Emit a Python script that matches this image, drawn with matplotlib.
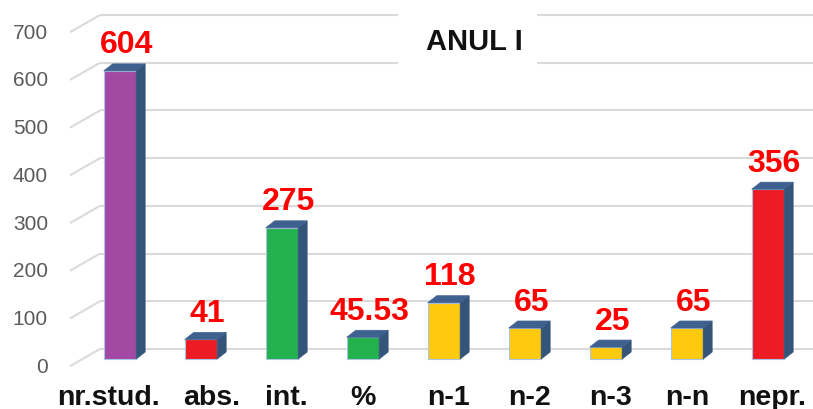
import matplotlib
matplotlib.use("Agg")
import matplotlib.pyplot as plt
from matplotlib.patches import Polygon, Rectangle

categories = ['nr.stud.', 'abs.', 'int.', '%', 'n-1', 'n-2', 'n-3', 'n-n', 'nepr.']
values = [604, 41, 275, 45.53, 118, 65, 25, 65, 356]
value_labels = ['604', '41', '275', '45.53', '118', '65', '25', '65', '356']
bar_colors = ['#A349A4', '#ED1C24', '#22B14C', '#22B14C', '#FFC90E',
              '#FFC90E', '#FFC90E', '#FFC90E', '#ED1C24']
y_ticks = [0, 100, 200, 300, 400, 500, 600, 700]

plt.rcParams['font.family'] = ['Liberation Sans', 'DejaVu Sans']

fig = plt.figure(figsize=(8.13, 4.10), dpi=100)
ax = fig.add_axes([0, 0, 1, 1])
ax.set_xlim(-1.481, 8.556)
ax.set_ylim(-104.8, 754.7)
ax.axis('off')

# depth of the bars and of the floor/wall (oblique 3D look)
w = 0.4
dx, dy = 0.111, 14.7
wall_x0, wall_x1 = -0.617, -0.247
wall_dy_front, wall_dy_back = -15, 21

# gridlines: short diagonal on the side wall + long line on back wall
for v in y_ticks:
    ax.plot([wall_x0, wall_x1], [v + wall_dy_front, v + wall_dy_back],
            color='#dadada', lw=1.5, zorder=0, solid_capstyle='butt')
    ax.plot([wall_x1, 8.6], [v + wall_dy_back, v + wall_dy_back],
            color='#dadada', lw=1.5, zorder=0, solid_capstyle='butt')
    ax.text(-0.889, v + wall_dy_front, str(v), ha='right', va='center',
            fontsize=15, color='#5a5a5a')

# white box behind the title hides gridlines
ax.add_patch(Rectangle((3.43, 612), 1.72, 122, facecolor='white',
                       edgecolor='none', zorder=1))
ax.text(4.38, 650, 'ANUL I', ha='center', va='baseline', fontsize=21,
        fontweight='bold', color='#111111', zorder=2)

x = list(range(len(categories)))
ax.bar(x, values, width=w, color=bar_colors, edgecolor='#a9c3e3',
       linewidth=0.8, zorder=3)
for xi, v, lab in zip(x, values, value_labels):
    right = xi + w / 2
    left = xi - w / 2
    side = Polygon([(right, 0), (right + dx, dy), (right + dx, v + dy), (right, v)],
                   closed=True, facecolor='#35547a', edgecolor='#35547a',
                   lw=0.5, zorder=3)
    top = Polygon([(left, v), (left + dx, v + dy), (right + dx, v + dy), (right, v)],
                  closed=True, facecolor='#3f6190', edgecolor='#3f6190',
                  lw=0.5, zorder=3)
    ax.add_patch(side)
    ax.add_patch(top)
    ax.text(xi + dx * 0.7, v + dy + 24, lab, ha='center', va='baseline',
            fontsize=23, fontweight='bold', color='#ff0000', zorder=4)

# category labels; first two spread apart as in the original layout
label_nudge = [-0.2, 0.08, 0, -0.05, 0, 0, 0, -0.05, 0]
for xi, cat, nd in zip(x, categories, label_nudge):
    ax.text(xi + dx * 0.5 + nd, -94, cat, ha='center', va='baseline',
            fontsize=20.5, fontweight='bold', color='#111111')

fig.savefig('out.png', dpi=100)
